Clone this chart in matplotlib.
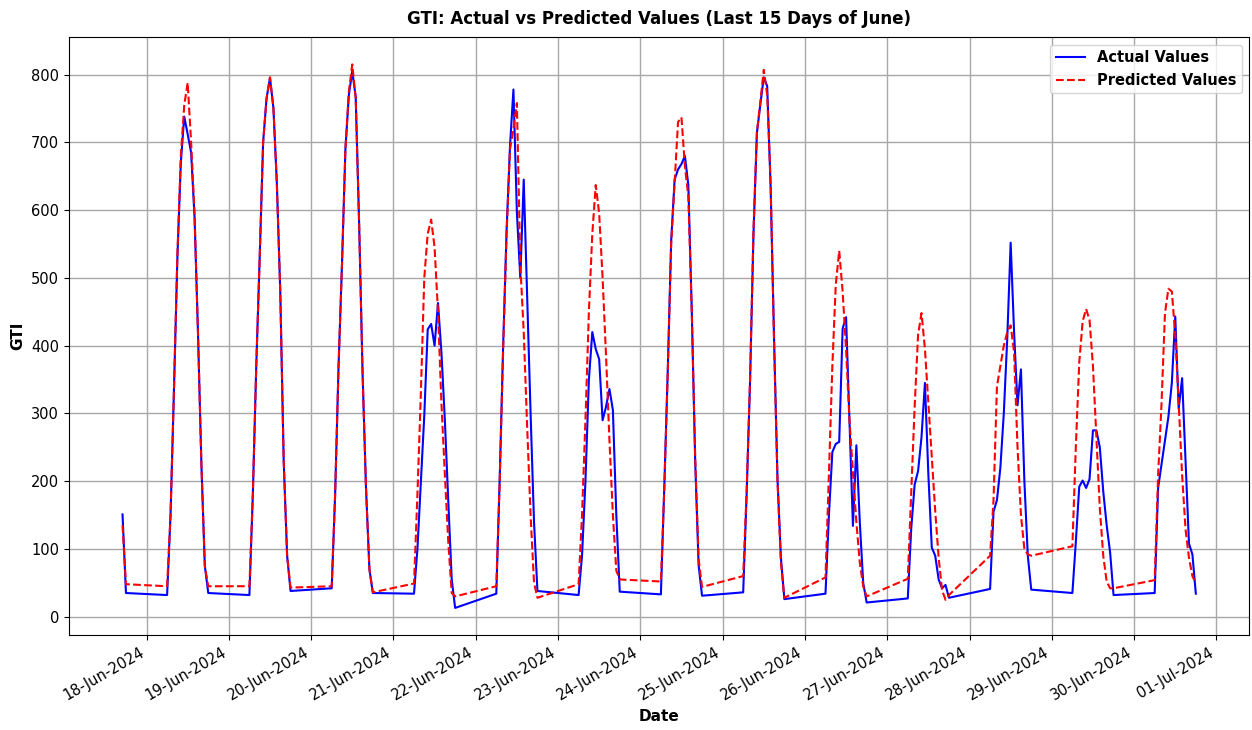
import matplotlib
matplotlib.use('Agg')
import matplotlib.pyplot as plt
import matplotlib.dates as mdates
import pandas as pd

# first two readings on the evening of 17-Jun, then 06:00-18:00 every day
start_times = ['2024-06-17 17:00', '2024-06-17 18:00']
day_list = pd.date_range('2024-06-18', '2024-06-30', freq='D')
hours = list(range(6, 19))

actual_values = [
    151, 35,
    32, 150, 335, 530, 670, 738, 712, 685, 590, 420, 225, 75, 35,      # 18-Jun
    32, 180, 370, 530, 700, 765, 795, 751, 640, 480, 230, 90, 38,      # 19-Jun
    42, 180, 370, 520, 690, 770, 805, 767, 580, 360, 190, 70, 35,      # 20-Jun
    34, 100, 200, 297, 424, 432, 400, 463, 390, 290, 170, 55, 13,      # 21-Jun
    34, 205, 400, 570, 695, 778, 597, 500, 645, 470, 300, 140, 38,     # 22-Jun
    32, 90, 200, 350, 420, 395, 380, 290, 310, 336, 305, 150, 37,      # 23-Jun
    33, 193, 363, 555, 645, 660, 668, 680, 637, 453, 230, 76, 31,      # 24-Jun
    36, 180, 347, 565, 714, 756, 796, 783, 634, 411, 204, 87, 26,      # 25-Jun
    34, 150, 243, 255, 258, 425, 442, 290, 134, 253, 140, 50, 21,      # 26-Jun
    27, 130, 195, 215, 265, 345, 210, 102, 90, 55, 42, 47, 28,         # 27-Jun
    41, 155, 172, 220, 300, 410, 552, 420, 312, 365, 200, 90, 40,      # 28-Jun
    35, 110, 192, 201, 190, 203, 275, 275, 250, 185, 135, 95, 32,      # 29-Jun
    35, 190, 225, 260, 295, 345, 443, 307, 352, 230, 108, 92, 34,      # 30-Jun
]

predicted_values = [
    135, 48,
    45, 150, 335, 535, 680, 755, 788, 700, 595, 420, 225, 75, 45,      # 18-Jun
    45, 180, 370, 530, 700, 765, 796, 751, 640, 480, 230, 90, 43,      # 19-Jun
    45, 180, 370, 520, 690, 775, 815, 765, 580, 360, 190, 70, 36,      # 20-Jun
    49, 180, 330, 500, 565, 586, 545, 450, 315, 210, 110, 35, 30,      # 21-Jun
    45, 200, 395, 565, 690, 720, 758, 520, 420, 280, 150, 50, 28,      # 22-Jun
    48, 150, 290, 450, 565, 637, 595, 500, 385, 260, 150, 68, 55,      # 23-Jun
    52, 190, 360, 550, 640, 730, 737, 665, 620, 450, 235, 85, 44,      # 24-Jun
    60, 185, 350, 570, 715, 760, 807, 770, 640, 405, 200, 80, 28,      # 25-Jun
    58, 210, 370, 490, 540, 480, 395, 289, 215, 140, 80, 45, 30,       # 26-Jun
    56, 182, 310, 416, 448, 395, 315, 235, 156, 87, 39, 25, 32,        # 27-Jun
    90, 172, 340, 370, 400, 420, 430, 390, 250, 150, 100, 92, 90,      # 28-Jun
    104, 250, 375, 436, 454, 438, 370, 265, 160, 90, 52, 42, 42,       # 29-Jun
    54, 209, 315, 448, 484, 480, 416, 315, 209, 129, 87, 60, 49,       # 30-Jun
]

times = list(pd.to_datetime(start_times)) + [d + pd.Timedelta(hours=h) for d in day_list for h in hours]

fig, ax = plt.subplots(figsize=(12.52, 7.3), dpi=100)
ax.plot(times, actual_values, color='blue', linestyle='-', linewidth=1.5, label='Actual Values')
ax.plot(times, predicted_values, color='red', linestyle='--', linewidth=1.5, label='Predicted Values')

ax.set_title('GTI: Actual vs Predicted Values (Last 15 Days of June)', fontsize=12, fontweight='bold', pad=9.5)
ax.set_xlabel('Date', fontsize=11, fontweight='bold')
ax.set_ylabel('GTI', fontsize=11, fontweight='bold')
ax.legend(loc='upper right', prop={'weight': 'bold', 'size': 10.5})
ax.grid(True, color='#a8a8a8', linewidth=1.0)

ax.xaxis.set_major_locator(mdates.DayLocator())
ax.xaxis.set_major_formatter(mdates.DateFormatter('%d-%b-%Y'))
fig.autofmt_xdate()
ax.tick_params(labelsize=10.5)

fig.subplots_adjust(left=0.055, right=0.998, top=0.949, bottom=0.13)
fig.savefig('out.png')
